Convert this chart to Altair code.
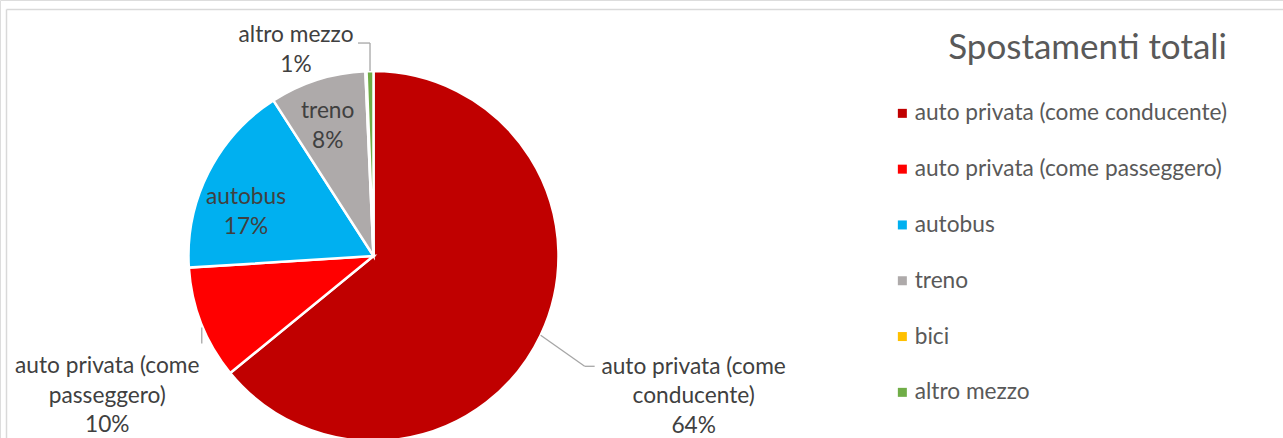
import altair as alt
import pandas as pd

# ---- data ----
categories = [
    "auto privata (come conducente)",
    "auto privata (come passeggero)",
    "autobus",
    "treno",
    "bici",
    "altro mezzo",
]
shares = [64.1, 9.9, 16.9, 8.4, 0.1, 0.6]
label_names = [
    "auto privata (come\nconducente)",
    "auto privata (come\npasseggero)",
    "autobus",
    "treno",
    "bici",
    "altro mezzo",
]
colors = ["#C00000", "#FF0000", "#00B0F0", "#AEAAAA", "#FFC000", "#70AD47"]
title_text = "Spostamenti totali"

df = pd.DataFrame({
    "cat": categories,
    "value": shares,
    "order": list(range(len(categories))),
    "label": [f"{n}\n{round(v):.0f}%" for n, v in zip(label_names, shares)],
})

# ---- layout / style ----
FONT = "Lato"
FS = 22.7
LH = 29.5
CX, CY, R = 373.5, 256.0, 185.0
TEXT_DARK = "#404040"
TEXT_GRAY = "#595959"
LEADER = "#A6A6A6"

base = (
    alt.Chart(df)
    .transform_joinaggregate(total="sum(value)")
    .transform_window(cum="sum(value)", sort=[alt.SortField("order")], frame=[None, 0])
    .transform_calculate(ang="2*PI*(datum.cum - datum.value/2)/datum.total")
    .transform_calculate(
        ex=f"{CX} + {R}*sin(datum.ang)",
        ey=f"{CY} - {R}*cos(datum.ang)",
    )
)

pie = alt.Chart(df).mark_arc(radius=R, stroke="white", strokeWidth=2.5).encode(
    theta=alt.Theta("value:Q", stack=True),
    order=alt.Order("order:Q"),
    color=alt.Color(
        "cat:N",
        scale=alt.Scale(domain=categories, range=colors),
        legend=alt.Legend(
            title=title_text,
            orient="none",
            legendX=891,
            legendY=31,
            padding=0,
            symbolType="square",
            symbolSize=81,
            symbolStrokeWidth=0,
            labelFont=FONT,
            labelFontSize=FS,
            labelColor=TEXT_GRAY,
            labelOffset=1,
            labelLimit=600,
            rowPadding=31.8,
            titleFont=FONT,
            titleFontSize=35,
            titleFontWeight="normal",
            titleColor=TEXT_GRAY,
            titleAnchor="end",
            titlePadding=36,
            titleLimit=600,
        ),
    ),
    x=alt.value(CX),
    y=alt.value(CY),
)


def pie_label(cat, r, dx, dy, nlines):
    # shift so that the multi-line block is centred on the anchor point
    dy = dy - (nlines - 1) * LH / 2
    return (
        base.transform_filter(alt.datum.cat == cat)
        .mark_text(
            radius=r, dx=dx, dy=dy, lineBreak="\n", align="center", baseline="middle",
            font=FONT, fontSize=FS, color=TEXT_DARK, lineHeight=LH,
        )
        .encode(
            theta=alt.Theta("ang:Q", scale=None),
            x=alt.value(CX),
            y=alt.value(CY),
            text="label:N",
        )
    )


def leader(cat, ox1, oy1, ox2, oy2):
    return (
        base.transform_filter(alt.datum.cat == cat)
        .transform_calculate(
            lx1=f"datum.ex + ({ox1})", ly1=f"datum.ey + ({oy1})",
            lx2=f"datum.ex + ({ox2})", ly2=f"datum.ey + ({oy2})",
        )
        .mark_rule(color=LEADER, strokeWidth=1.3)
        .encode(
            x=alt.X("lx1:Q", scale=None, axis=None),
            y=alt.Y("ly1:Q", scale=None, axis=None),
            x2="lx2:Q",
            y2="ly2:Q",
        )
    )


frame_df = pd.DataFrame({"k": [0]})
frame_left = alt.Chart(frame_df).mark_rule(color="#D9D9D9", strokeWidth=1.5).encode(
    x=alt.value(6.5), y=alt.value(9.5), y2=alt.value(438)
)
frame_top = alt.Chart(frame_df).mark_rule(color="#D9D9D9", strokeWidth=1.5).encode(
    x=alt.value(6.5), x2=alt.value(1283), y=alt.value(9.5)
)

chart = alt.layer(
    frame_left,
    frame_top,
    pie,
    leader(categories[0], 0, 0, 44, 31),
    leader(categories[0], 44, 31, 54, 31),
    leader(categories[1], 0.5, 4, 0.5, 20),
    leader(categories[5], 0, 0, 0, -28),
    leader(categories[5], 0, -28, -12, -28),
    pie_label(categories[0], R, 153, 61, 3),
    pie_label(categories[1], R, -94, 72, 3),
    pie_label(categories[2], 135, -7, 17, 2),
    pie_label(categories[3], 138, -4, 1.5, 2),
    pie_label(categories[5], R, -74, -21, 2),
).resolve_scale(theta="independent").properties(
    width=1283,
    height=438,
    autosize=alt.AutoSizeParams(type="none"),
    padding=0,
).configure_view(stroke=None).configure(background="white")

chart.save("out.html", embed_options={"renderer": "svg", "actions": False})
